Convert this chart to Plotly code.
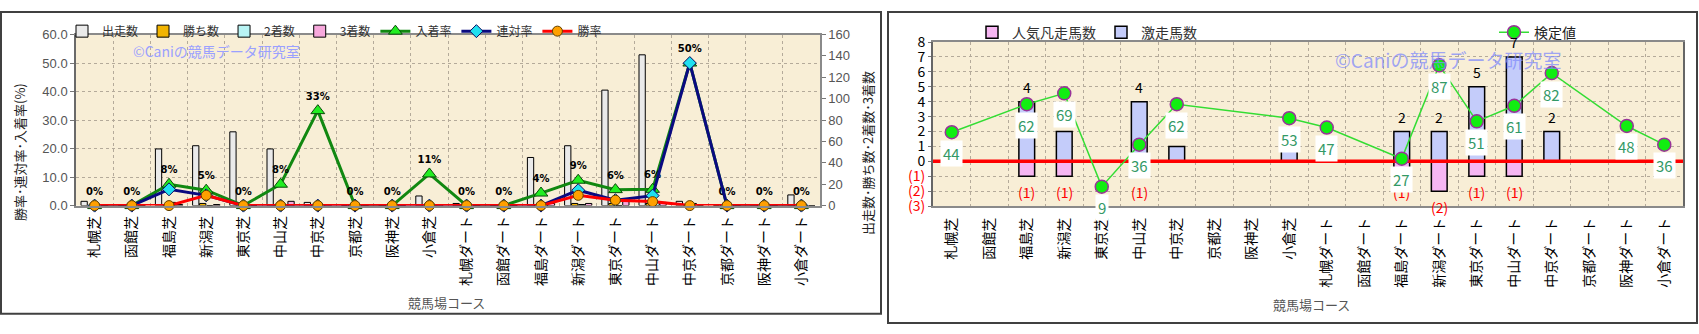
import plotly.graph_objects as go

W, H = 1699, 334

# ---------------- data ----------------
categories = ["札幌芝", "函館芝", "福島芝", "新潟芝", "東京芝", "中山芝", "中京芝", "京都芝", "阪神芝", "小倉芝",
              "札幌ダート", "函館ダート", "福島ダート", "新潟ダート", "東京ダート", "中山ダート", "中京ダート",
              "京都ダート", "阪神ダート", "小倉ダート"]

runs = [4, 0, 53, 56, 69, 53, 3, 0, 0, 9, 2, 0, 45, 56, 108, 141, 4, 0, 1, 10]
wins = [0, 0, 0, 2, 0, 0, 0, 0, 0, 0, 0, 0, 0, 2, 2, 2, 0, 0, 0, 0]
seconds = [0, 0, 3, 0, 0, 0, 0, 0, 0, 0, 0, 0, 0, 1, 0, 3, 2, 0, 0, 0]
thirds = [0, 0, 1, 1, 0, 4, 1, 0, 0, 1, 0, 0, 2, 2, 4, 3, 0, 0, 0, 0]
place_rate = [0, 0, 7.5, 5.4, 0, 7.5, 33.3, 0, 0, 11.1, 0, 0, 4.4, 8.9, 5.6, 5.7, 50, 0, 0, 0]
quinella_rate = [0, 0, 5.7, 3.6, 0, 0, 0, 0, 0, 0, 0, 0, 0, 5.4, 1.9, 3.5, 50, 0, 0, 0]
win_rate = [0, 0, 0, 3.6, 0, 0, 0, 0, 0, 0, 0, 0, 0, 3.6, 1.9, 1.4, 0, 0, 0, 0]

upset_horses = [0, 0, 4, 2, 0, 4, 1, 0, 0, 1, 0, 0, 2, 2, 5, 7, 2, 0, 0, 0]
favorite_flops = [0, 0, 1, 1, 0, 1, 0, 0, 0, 0, 0, 0, 1, 2, 1, 1, 0, 0, 0, 0]
test_value = [44, None, 62, 69, 9, 36, 62, None, None, 53, 47, None, 27, 87, 51, 61, 82, None, 48, 36]

pct_ticks = [0, 10, 20, 30, 40, 50, 60]
count_ticks = [0, 20, 40, 60, 80, 100, 120, 140, 160]
right_ticks = [-3, -2, -1, 0, 1, 2, 3, 4, 5, 6, 7, 8]
right_ticktext = ['<span style="color:#ff0000">(3)</span>', '<span style="color:#ff0000">(2)</span>',
                  '<span style="color:#ff0000">(1)</span>', "0", "1", "2", "3", "4", "5", "6", "7", "8"]

FONT = "Noto Sans CJK JP"
xs = list(range(len(categories)))
n = len(categories)


def px_x(p):
    return p / W


def px_y(p):
    return 1 - p / H


fig = go.Figure()

# ---------------- left chart: bars ----------------
bar_specs = [("出走数", runs, "#eaeaea"), ("勝ち数", wins, "#f2b400"),
             ("2着数", seconds, "#b8f4f4"), ("3着数", thirds, "#f7a8dc")]
for name, vals, col in bar_specs:
    fig.add_trace(go.Bar(x=xs, y=vals, name=name, xaxis="x", yaxis="y",
                         marker=dict(color=col, line=dict(color="#000000", width=1)),
                         legend="legend"))

# ---------------- left chart: lines ----------------
fig.add_trace(go.Scatter(x=xs, y=place_rate, name="入着率", xaxis="x", yaxis="y2",
                         mode="lines+markers+text", cliponaxis=False,
                         line=dict(color="#118811", width=3),
                         marker=dict(symbol="triangle-up", size=12, color="#22ee22",
                                     line=dict(color="#0a4a0a", width=1)),
                         texttemplate="%{y:.0f}%", textposition="top center",
                         textfont=dict(size=10, color="#000000", family="DejaVu Sans", weight="bold"),
                         legend="legend"))
fig.add_trace(go.Scatter(x=xs, y=quinella_rate, name="連対率", xaxis="x", yaxis="y2",
                         mode="lines+markers", cliponaxis=False,
                         line=dict(color="#0a0a80", width=3),
                         marker=dict(symbol="diamond", size=10, color="#20e0f0",
                                     line=dict(color="#0a0a60", width=1)),
                         legend="legend"))
fig.add_trace(go.Scatter(x=xs, y=win_rate, name="勝率", xaxis="x", yaxis="y2",
                         mode="lines+markers", cliponaxis=False,
                         line=dict(color="#ff0000", width=3),
                         marker=dict(symbol="circle", size=10, color="#ffa000",
                                     line=dict(color="#604000", width=1)),
                         legend="legend"))

# ---------------- right chart ----------------
fig.add_trace(go.Bar(x=xs, y=[-v for v in favorite_flops], name="人気凡走馬数", xaxis="x2", yaxis="y3",
                     width=0.42, offset=-0.21,
                     marker=dict(color="#f6b6f2", line=dict(color="#000000", width=1.5)),
                     legend="legend2"))
fig.add_trace(go.Bar(x=xs, y=upset_horses, name="激走馬数", xaxis="x2", yaxis="y3",
                     width=0.42, offset=-0.21,
                     marker=dict(color="#c4ccfa", line=dict(color="#000000", width=1.5)),
                     legend="legend2"))
fig.add_trace(go.Scatter(x=[-0.5, n - 0.5], y=[0, 0], xaxis="x2", yaxis="y3", mode="lines",
                         line=dict(color="#ff0000", width=3.5), showlegend=False, hoverinfo="skip",
                         cliponaxis=False))
fig.add_trace(go.Scatter(x=xs, y=test_value, name="検定値", xaxis="x2", yaxis="y4",
                         mode="lines+markers", connectgaps=True, cliponaxis=False,
                         line=dict(color="#33dd33", width=1.5),
                         marker=dict(symbol="circle", size=13, color="#11ee11",
                                     line=dict(color="#993399", width=1.5)),
                         legend="legend3"))

# ---------------- annotations ----------------
ann = []
# bar value labels (drawn first so the value boxes cover them, as in the reference)
for i, v in enumerate(upset_horses):
    if v:
        ann.append(dict(x=i, y=v, xref="x2", yref="y3", text=str(v), showarrow=False,
                        xanchor="center", yanchor="middle", yshift=15,
                        font=dict(size=14, color="#000000", family=FONT)))
for i, v in enumerate(favorite_flops):
    if v:
        ann.append(dict(x=i, y=-v, xref="x2", yref="y3", text="(%d)" % v, showarrow=False,
                        xanchor="center", yanchor="middle", yshift=-16,
                        font=dict(size=14, color="#ff0000", family=FONT)))
for i, v in enumerate(test_value):
    if v is None:
        continue
    ann.append(dict(x=i, y=v, xref="x2", yref="y4", text=str(v), showarrow=False,
                    xanchor="center", yanchor="middle", yshift=-21,
                    bgcolor="#ffffff", borderpad=2,
                    font=dict(size=15, color="#339966", family=FONT)))

ann += [
    dict(x=px_x(19), y=px_y(150), xref="paper", yref="paper", text="勝率･連対率･入着率(%)",
         xanchor="center", yanchor="middle",
         textangle=-90, showarrow=False, font=dict(size=13, color="#222222", family=FONT)),
    dict(x=px_x(868), y=px_y(151), xref="paper", yref="paper", text="出走数･勝ち数･2着数･3着数",
         xanchor="center", yanchor="middle",
         textangle=-90, showarrow=False, font=dict(size=13, color="#222222", family=FONT)),
    dict(x=px_x(446), y=px_y(310), xref="paper", yref="paper", text="競馬場コース",
         xanchor="center", yanchor="middle",
         showarrow=False, font=dict(size=13, color="#555555", family=FONT)),
    dict(x=px_x(1311), y=px_y(312), xref="paper", yref="paper", text="競馬場コース",
         xanchor="center", yanchor="middle",
         showarrow=False, font=dict(size=13, color="#555555", family=FONT)),
    dict(x=px_x(217), y=px_y(43), xref="paper", yref="paper", text="©Caniの競馬データ研究室",
         xanchor="center", yanchor="middle",
         showarrow=False, font=dict(size=14, color="#9aa0ff", family=FONT)),
    dict(x=px_x(1448), y=px_y(52), xref="paper", yref="paper", text="©Caniの競馬データ研究室",
         xanchor="center", yanchor="middle",
         showarrow=False, font=dict(size=19, color="rgba(130,140,250,0.75)", family=FONT)),
]

# frames
shapes = [
    dict(type="rect", xref="paper", yref="paper", x0=px_x(1), x1=px_x(881), y0=px_y(322), y1=px_y(1),
         line=dict(color="#404040", width=2), layer="below"),
    dict(type="rect", xref="paper", yref="paper", x0=px_x(888), x1=px_x(1697), y0=px_y(332), y1=px_y(1),
         line=dict(color="#404040", width=2), layer="below"),
]

grid = "#b4aa9a"
tickfont_x = dict(size=14, color="#000000", family=FONT)

fig.update_layout(
    width=W, height=H,
    margin=dict(l=0, r=0, t=0, b=0),
    paper_bgcolor="#ffffff",
    plot_bgcolor="#f8eed6",
    font=dict(family=FONT, color="#333333"),
    barmode="group", bargap=0.25, bargroupgap=0.1,
    annotations=ann,
    shapes=shapes,
    xaxis=dict(domain=[px_x(76), px_x(820)], anchor="y", range=[-0.5, n - 0.5],
               tickmode="array", tickvals=xs, ticktext=categories, tickangle=-90,
               tickfont=tickfont_x, showgrid=False, zeroline=False, ticks="",
               ticklabelstandoff=3,
               showline=True, mirror=True, linecolor="#8a8a8a", linewidth=1.5,
               minor=dict(tickmode="array", tickvals=[i + 0.5 for i in range(n - 1)],
                          showgrid=True, gridcolor=grid, griddash="dot", gridwidth=1, ticks="")),
    yaxis=dict(domain=[px_y(207), px_y(25)], anchor="x", range=[0, 160], side="right",
               tickmode="array", tickvals=count_ticks, showgrid=False, zeroline=False,
               ticks="outside", ticklen=4, tickcolor="#777777",
               tickfont=dict(size=13, color="#555555", family="Liberation Sans"),
               showline=True, linecolor="#8a8a8a", linewidth=1.5),
    yaxis2=dict(overlaying="y", anchor="x", side="left", range=[0, 60],
                tickmode="array", tickvals=pct_ticks, ticksuffix="%", tickformat=".1f",
                showgrid=True, gridcolor=grid, griddash="dot", gridwidth=1, zeroline=False,
                ticks="outside", ticklen=4, tickcolor="#777777",
                tickfont=dict(size=13, color="#555555", family="Liberation Sans"),
                showline=True, linecolor="#6a6a6a", linewidth=1.5),
    xaxis2=dict(domain=[px_x(933), px_x(1683)], anchor="y3", range=[-0.5, n - 0.5],
                tickmode="array", tickvals=xs, ticktext=categories, tickangle=-90,
                tickfont=tickfont_x, showgrid=False, zeroline=False, ticks="",
                ticklabelstandoff=4,
                showline=True, mirror=True, linecolor="#8a8a8a", linewidth=2,
                minor=dict(tickmode="array", tickvals=[i + 0.5 for i in range(n - 1)],
                           showgrid=True, gridcolor=grid, griddash="dot", gridwidth=1, ticks="")),
    yaxis3=dict(domain=[px_y(207.5), px_y(33)], anchor="x2", range=[-3, 8],
                tickmode="array", tickvals=right_ticks, ticktext=right_ticktext,
                tickfont=dict(size=14, color="#000000", family=FONT),
                showgrid=True, gridcolor=grid, griddash="dot", gridwidth=1, zeroline=False,
                ticks="outside", ticklen=3, tickcolor="#777777",
                showline=True, mirror=True, linecolor="#666666", linewidth=2),
    yaxis4=dict(overlaying="y3", anchor="x2", range=[-3.5, 102], visible=False),
    legend=dict(orientation="h", x=px_x(62), y=px_y(6), xanchor="left", yanchor="top",
                bgcolor="rgba(0,0,0,0)", font=dict(size=12, color="#333333", family=FONT),
                itemwidth=30, traceorder="normal"),
    legend2=dict(orientation="h", x=px_x(972), y=px_y(6), xanchor="left", yanchor="top",
                 bgcolor="rgba(0,0,0,0)", font=dict(size=14, color="#333333", family=FONT),
                 itemwidth=30, traceorder="normal"),
    legend3=dict(orientation="h", x=px_x(1494), y=px_y(6), xanchor="left", yanchor="top",
                 bgcolor="rgba(0,0,0,0)", font=dict(size=14, color="#222222", family=FONT),
                 itemwidth=30),
)

fig.write_html("out.html")
